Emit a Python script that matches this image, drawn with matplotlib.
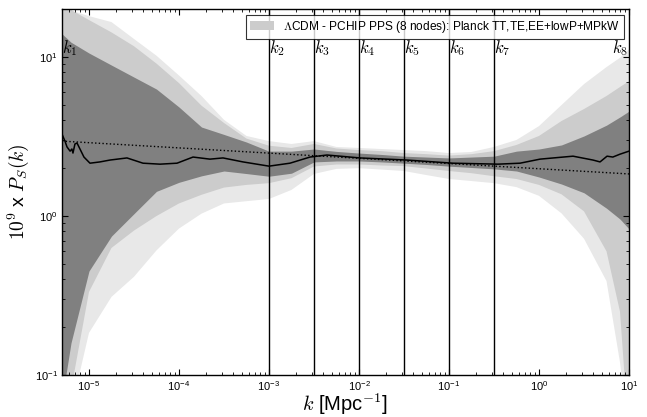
import numpy as np
import matplotlib
matplotlib.use("Agg")
import matplotlib.pyplot as plt
import matplotlib.transforms as mtransforms

plt.rcParams["font.family"] = ["Liberation Sans", "DejaVu Sans"]
plt.rcParams["mathtext.fontset"] = "cm"

# ----------------------------------------------------------------------
# Bands: log10(k) grid and the 68/95/99 % limits of P_S
# ----------------------------------------------------------------------
log_k = [-5.3, -5.2, -5.0, -4.75, -4.5, -4.25, -4.0, -3.75, -3.5, -3.25,
         -3.0, -2.75, -2.5, -2.25, -2.0, -1.75, -1.5, -1.25, -1.0, -0.75,
         -0.5, -0.25, 0.0, 0.25, 0.5, 0.75, 0.9, 1.0]

hi99 = [24.0, 19.6, 18.1, 16.6, 13.0, 10.2, 7.66, 5.69, 4.03, 3.19,
        2.96, 2.84, 2.96, 2.72, 2.68, 2.64, 2.60, 2.56, 2.49, 2.53,
        2.72, 3.01, 3.68, 4.99, 6.76, 8.65, 9.9, 11.2]
hi95 = [21.0, 19.8, 17.1, 14.3, 11.7, 9.1, 6.86, 4.95, 3.85, 3.07,
        2.77, 2.68, 2.84, 2.66, 2.60, 2.56, 2.49, 2.45, 2.40, 2.45,
        2.56, 2.80, 3.19, 3.96, 4.71, 5.69, 6.48, 7.06]
hi68 = [14.0, 12.4, 10.6, 8.9, 7.48, 6.29, 4.85, 3.63, 3.26, 2.92,
        2.56, 2.56, 2.64, 2.55, 2.49, 2.44, 2.38, 2.35, 2.32, 2.35,
        2.38, 2.56, 2.64, 2.80, 3.19, 3.73, 4.2, 4.57]
lo68 = [0.07, 0.159, 0.451, 0.748, 1.035, 1.43, 1.63, 1.79, 1.92, 1.85,
        1.78, 1.86, 2.19, 2.22, 2.22, 2.19, 2.15, 2.11, 2.06, 2.02,
        1.98, 1.92, 1.76, 1.59, 1.40, 1.12, 0.957, 0.83]
lo95 = [0.04, 0.08, 0.333, 0.63, 0.81, 1.0, 1.20, 1.36, 1.51, 1.57,
        1.61, 1.73, 2.05, 2.11, 2.11, 2.08, 2.06, 1.99, 1.92, 1.86,
        1.78, 1.71, 1.57, 1.37, 1.07, 0.60, 0.25, 0.04]
lo99 = [0.04, 0.06, 0.184, 0.31, 0.415, 0.608, 0.834, 1.035, 1.20, 1.24,
        1.28, 1.46, 1.84, 1.98, 2.0, 1.96, 1.92, 1.81, 1.71, 1.66,
        1.61, 1.52, 1.34, 1.04, 0.72, 0.39, 0.12, 0.04]

# mean reconstruction
mean_log_k = [-5.3, -5.267, -5.244, -5.21, -5.19, -5.178, -5.156, -5.133, -5.1,
              -5.056, -4.989, -4.878, -4.767, -4.578, -4.4, -4.211, -4.022,
              -3.844, -3.656, -3.511, -3.289, -3.0, -2.767, -2.544, -2.356,
              -1.989, -1.467, -0.956, -0.456, -0.211, 0.011, 0.378, 0.6,
              0.678, 0.756, 0.82, 0.9, 1.0]
mean_ps = [3.28, 2.96, 2.72, 2.56, 2.64, 2.49, 2.84, 2.88, 2.64,
           2.35, 2.15, 2.19, 2.25, 2.32, 2.15, 2.12, 2.15,
           2.35, 2.28, 2.32, 2.19, 2.06, 2.15, 2.35, 2.42,
           2.32, 2.25, 2.15, 2.12, 2.15, 2.28, 2.38, 2.25,
           2.19, 2.38, 2.35, 2.45, 2.56]

# LCDM power law (dotted), end points
pl_log_k = [-5.3, 1.0]
pl_ps = [2.96, 1.84]

# PCHIP nodes
node_log_k = [-5.3, -3.0, -2.5, -2.0, -1.5, -1.0, -0.5, 1.0]
node_labels = [r"$k_{%d}$" % (i + 1) for i in range(8)]

legend_label = r"$\Lambda$CDM - PCHIP PPS (8 nodes): Planck TT,TE,EE+lowP+MPkW"

# ----------------------------------------------------------------------
k = 10.0 ** np.array(log_k)

fig = plt.figure(figsize=(6.47, 4.17), dpi=100)
ax = fig.add_axes([0.0958, 0.1007, 0.8764, 0.8772])

ax.fill_between(k, lo99, hi99, color="0.91", lw=0)
ax.fill_between(k, lo95, hi95, color="0.80", lw=0)
ax.fill_between(k, lo68, hi68, color="0.50", lw=0)

ax.plot(10.0 ** np.array(mean_log_k), mean_ps, color="k", lw=1.1)
ax.plot(10.0 ** np.array(pl_log_k), pl_ps, color="k", lw=1.0, ls=":")

trans = mtransforms.blended_transform_factory(ax.transData, ax.transAxes)
for i, (lk, lab) in enumerate(zip(node_log_k, node_labels)):
    kn = 10.0 ** lk
    if 0 < i < len(node_log_k) - 1:
        ax.axvline(kn, color="k", lw=1.0)
    if i == len(node_log_k) - 1:
        ax.text(kn * 0.97, 0.895, lab, transform=trans, ha="right", va="center",
                fontsize=12)
    else:
        ax.text(kn * 1.01, 0.895, lab, transform=trans, ha="left", va="center",
                fontsize=12)

ax.set_xscale("log")
ax.set_yscale("log")
ax.set_xlim(10.0 ** -5.3, 10.0)
ax.set_ylim(0.1, 20.0)

ax.tick_params(which="both", direction="in", top=True, right=True,
               labelsize=8, pad=3)
ax.tick_params(which="major", length=4.5, width=0.8)
ax.tick_params(which="minor", length=2.2, width=0.6)
for s in ax.spines.values():
    s.set_linewidth(1.0)

ax.set_xlabel(r"$k$ [Mpc$^{-1}$]", fontsize=14.5, labelpad=-1)
ax.set_ylabel(r"$10^9$ x $P_S(k)$", fontsize=14, labelpad=3)

handle = plt.Rectangle((0, 0), 1, 1, color="0.80", lw=0)
leg = ax.legend([handle], [legend_label], loc="upper right", fontsize=8.6,
                frameon=True, fancybox=False, borderaxespad=0.45,
                handlelength=2.0, handletextpad=0.7, borderpad=0.35)
leg.get_frame().set_edgecolor("k")
leg.get_frame().set_linewidth(0.8)

fig.savefig("out.png", dpi=100, facecolor="white")
